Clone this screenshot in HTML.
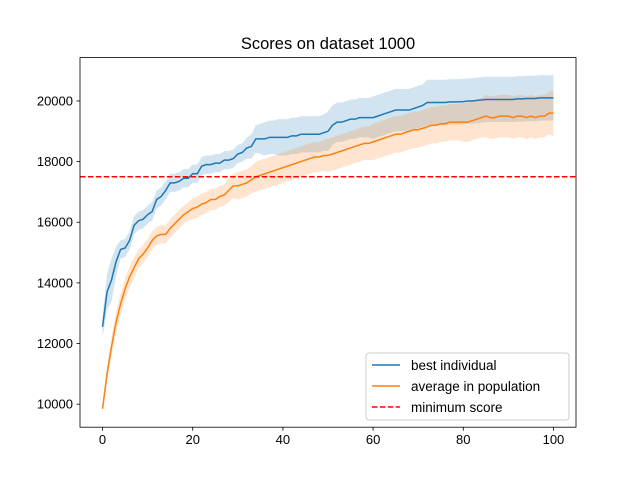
<!DOCTYPE html>
<html><head><meta charset="utf-8"><style>
body{margin:0;background:#fff}
svg{display:block;font-family:"Liberation Sans","DejaVu Sans",sans-serif}
</style></head><body>
<svg id="chart" width="640" height="480" viewBox="0 0 640 480" xmlns="http://www.w3.org/2000/svg">
<rect width="640" height="480" fill="#fff"/>
<text x="328" y="49" text-anchor="middle" font-size="16.5">Scores on dataset 1000</text>
<g id="plot"></g>
<g id="axes"></g>
<g>
<rect x="366" y="353" width="203" height="67" rx="3" fill="#fff" fill-opacity="0.8" stroke="#ccc"/>
<line x1="372" y1="365" x2="400" y2="365" stroke="#1f77b4" stroke-width="1.5"/>
<text x="411" y="370" font-size="13.5">best individual</text>
<line x1="372" y1="386" x2="400" y2="386" stroke="#ff7f0e" stroke-width="1.5"/>
<text x="411" y="391" font-size="13.5">average in population</text>
<line x1="372" y1="407" x2="400" y2="407" stroke="#ff0000" stroke-width="1.5" stroke-dasharray="5.5,2.4"/>
<text x="411" y="412" font-size="13.5">minimum score</text>
</g>
</svg>
<script>
const best=[12550,13700,14100,14700,15100,15150,15400,15900,16050,16100,
16250,16350,16750,16850,17050,17300,17300,17350,17450,17450,
17600,17600,17850,17900,17900,17950,17950,18050,18050,18100,
18250,18300,18450,18500,18750,18750,18750,18800,18800,18800,
18800,18800,18850,18850,18900,18900,18900,18900,18900,18950,
19000,19200,19300,19300,19350,19400,19400,19450,19450,19450,
19450,19500,19550,19600,19650,19700,19700,19700,19700,19750,
19800,19850,19950,19950,19950,19950,19950,19970,19970,19970,
19980,20000,20000,20020,20030,20050,20050,20050,20050,20050,
20050,20050,20070,20070,20080,20080,20080,20100,20100,20100,20100];
const avg=[9850,11000,11900,12700,13300,13800,14200,14500,14800,14950,
15150,15400,15550,15600,15600,15800,15950,16100,16250,16350,
16450,16500,16600,16650,16750,16750,16850,16900,17050,17200,
17200,17250,17300,17400,17500,17550,17600,17650,17700,17750,
17800,17850,17900,17950,18000,18050,18100,18150,18150,18200,
18200,18250,18300,18350,18400,18450,18500,18550,18600,18600,
18650,18700,18750,18800,18850,18900,18900,18950,19000,19050,
19050,19100,19150,19200,19200,19250,19250,19300,19300,19300,
19300,19300,19350,19400,19450,19500,19450,19450,19500,19500,
19500,19450,19500,19500,19450,19500,19450,19500,19500,19600,19600];
const bestSd=[350,600,700,500,300,300,300,300,300,300,300,300,300,300,300,300,300,300,300,300,300,300,300,300,300,300,300,300,300,300,300,300,350,400,450,500,550,550,550,600,600,600,600,600,600,600,600,600,600,600,650,650,650,650,650,650,650,650,650,650,700,700,700,700,700,700,700,700,700,700,700,700,750,750,750,750,750,750,750,750,750,750,750,750,750,750,750,750,750,750,750,750,750,750,750,750,750,750,750,750,750];
const avgSd=[150,250,300,350,350,350,350,350,300,300,300,300,300,300,300,300,300,300,300,300,350,350,350,350,350,350,350,350,400,400,450,450,450,450,500,500,500,500,500,500,500,500,500,500,500,500,500,500,500,500,550,550,550,550,550,550,550,550,550,550,600,600,600,600,600,600,600,600,600,600,600,600,600,600,600,600,600,600,600,600,650,650,650,650,650,700,700,700,700,700,700,700,700,700,700,700,700,700,700,700,750];
const minScore=17500;
const xTicks=[0,20,40,60,80,100];
const yTicks=[10000,12000,14000,16000,18000,20000];
const L=80,R=576,T=57.6,B=427.2;
const X0=-5,X1=105,Y0=9240,Y1=21430;
const sx=v=>L+(v-X0)/(X1-X0)*(R-L);
const sy=v=>B-(v-Y0)/(Y1-Y0)*(B-T);
const NS="http://www.w3.org/2000/svg";
const plot=document.getElementById('plot'),axes=document.getElementById('axes');
function mk(tag,attrs,parent){const e=document.createElementNS(NS,tag);for(const k in attrs)e.setAttribute(k,attrs[k]);parent.appendChild(e);return e;}
function band(m,s,color,name){
  let up=m.map((v,i)=>sx(i)+','+sy(v+s[i]));
  let lo=m.map((v,i)=>sx(i)+','+sy(v-s[i])).reverse();
  const p=mk('polygon',{points:up.concat(lo).join(' '),fill:color,'fill-opacity':0.2,stroke:'none'},plot);
  
  
}
function line(m,color,name){
  const p=mk('polyline',{points:m.map((v,i)=>sx(i)+','+sy(v)).join(' '),fill:'none',stroke:color,'stroke-width':1.5},plot);
  
  
}
band(best,bestSd,'#1f77b4','best-band');
band(avg,avgSd,'#ff7f0e','average-band');
line(best,'#1f77b4','best-line');
line(avg,'#ff7f0e','average-line');
const ml=mk('line',{x1:L,x2:R,y1:sy(minScore),y2:sy(minScore),stroke:'#ff0000','stroke-width':1.5,'stroke-dasharray':'5.5,2.4'},plot);


const fr=mk('rect',{x:L,y:T,width:R-L,height:B-T,fill:'none',stroke:'#000','stroke-width':0.8},axes);


xTicks.forEach(t=>{
  mk('line',{x1:sx(t),x2:sx(t),y1:B,y2:B+3.5,stroke:'#000','stroke-width':0.8},axes);
  const tx=mk('text',{x:sx(t),y:B+17,'text-anchor':'middle','font-size':13},axes);
  tx.textContent=t;
  
  
});
yTicks.forEach(t=>{
  mk('line',{x1:L-3.5,x2:L,y1:sy(t),y2:sy(t),stroke:'#000','stroke-width':0.8},axes);
  const tx=mk('text',{x:L-7,y:sy(t)+4.5,'text-anchor':'end','font-size':13},axes);
  tx.textContent=t;
  
  
});
</script>
</body></html>
